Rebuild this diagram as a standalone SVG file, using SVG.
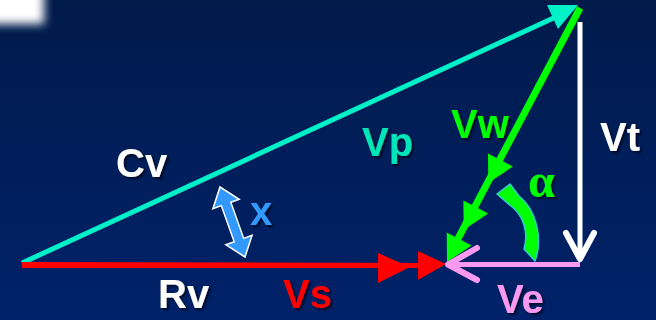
<svg xmlns="http://www.w3.org/2000/svg" width="656" height="320" viewBox="0 0 656 320">
  <defs>
    <linearGradient id="bg" x1="0" y1="0" x2="0" y2="1">
      <stop offset="0" stop-color="#001a4a"/>
      <stop offset="1" stop-color="#00226a"/>
    </linearGradient>
    <filter id="blur" x="-50%" y="-50%" width="200%" height="200%">
      <feGaussianBlur stdDeviation="5"/>
    </filter>
    <filter id="sh" x="-20%" y="-20%" width="140%" height="140%">
      <feDropShadow dx="2" dy="2" stdDeviation="1" flood-color="#000010" flood-opacity="0.7"/>
    </filter>
  </defs>
  <style>
    .lbl { font-family: "Liberation Sans", Arial, sans-serif; font-weight: bold; font-size: 40px; filter: url(#sh); }
    .greek { font-family: "Liberation Serif", "Times New Roman", serif; font-weight: bold; font-size: 48px; filter: url(#sh); }
  </style>
  <rect width="656" height="320" fill="url(#bg)"/>
  <rect x="-20" y="-20" width="64" height="44" fill="#ffffff" filter="url(#blur)"/>

  <g id="connectors">
    <!-- Cv (cyan hypotenuse) -->
    <g id="cv-line">
      <line x1="22" y1="263" x2="560" y2="15" stroke="#00f0c8" stroke-width="5"/>
      <polygon points="578,5 547,5 558,29" fill="#00f0c8"/>
    </g>
    <!-- Rv / Vs (red base) -->
    <g id="rv-line">
      <polygon points="22,262 440,263 440,268 22,268" fill="#ff0000"/>
      <polygon points="378,253 378,283 410,267" fill="#ff0000"/>
      <polygon points="418,251 418,280 446,264" fill="#ff0000"/>
    </g>
    <!-- Vw (green) -->
    <g id="vw-line">
      <line x1="580" y1="8" x2="452" y2="250" stroke="#00ff00" stroke-width="7"/>
      <polygon points="512.8,166.5 488.0,153.5 488.3,183" fill="#00ff00"/>
      <polygon points="488.2,213.5 463.4,200.5 463.7,230" fill="#00ff00"/>
      <polygon points="471.5,245.5 446.7,232.5 447,262" fill="#00ff00"/>
    </g>
    <!-- Vt (white vertical) -->
    <g id="vt-line">
      <line x1="580" y1="22" x2="580" y2="259" stroke="#ffffff" stroke-width="5"/>
      <polyline points="566,233 580,259 594,233" fill="none" stroke="#ffffff" stroke-width="6" stroke-linecap="round" stroke-linejoin="round"/>
    </g>
    <!-- Ve (pink) -->
    <g id="ve-line">
      <line x1="580" y1="264.5" x2="450" y2="264.5" stroke="#f99af0" stroke-width="5"/>
      <polyline points="477,248 448,264.5 477,280" fill="none" stroke="#f99af0" stroke-width="6" stroke-linecap="round" stroke-linejoin="round"/>
    </g>
    <!-- x double arrow -->
    <g id="x-arrow">
      <polygon points="220,187 239.2,199.3 230.8,202.3 243.7,238.4 252.1,235.3 245,257 225.8,244.7 234.2,241.7 221.3,205.6 212.9,208.7" fill="#3399ff" stroke="#ffffff" stroke-width="1.5"/>
    </g>
    <!-- alpha curved arrow -->
    <g id="alpha-arrow">
      <path d="M524,249 L535,261 C543,240 537,210 519,196 L510,184 L497,194 L511,206 C523,215 529,232 524,249 Z" fill="#00ff00" stroke="#33cccc" stroke-width="1.5" stroke-linejoin="round"/>
    </g>
  </g>

  <g id="label-cv"><text class="lbl" x="116" y="177" fill="#ffffff">Cv</text></g>
  <g id="label-vp"><text class="lbl" x="362" y="156" fill="#00e6b8">Vp</text></g>
  <g id="label-vw"><text class="lbl" x="451" y="138" fill="#00ff00">Vw</text></g>
  <g id="label-vt"><text class="lbl" x="600" y="151" fill="#ffffff">Vt</text></g>
  <g id="label-x"><text class="lbl" x="250" y="225" fill="#3399ff">x</text></g>
  <g id="label-alpha"><text class="greek" x="528" y="197" fill="#00ff00">α</text></g>
  <g id="label-rv"><text class="lbl" x="158" y="308" fill="#ffffff">Rv</text></g>
  <g id="label-vs"><text class="lbl" x="283" y="308" fill="#ff0000">Vs</text></g>
  <g id="label-ve"><text class="lbl" x="497" y="313" fill="#f99af0">Ve</text></g>
</svg>
